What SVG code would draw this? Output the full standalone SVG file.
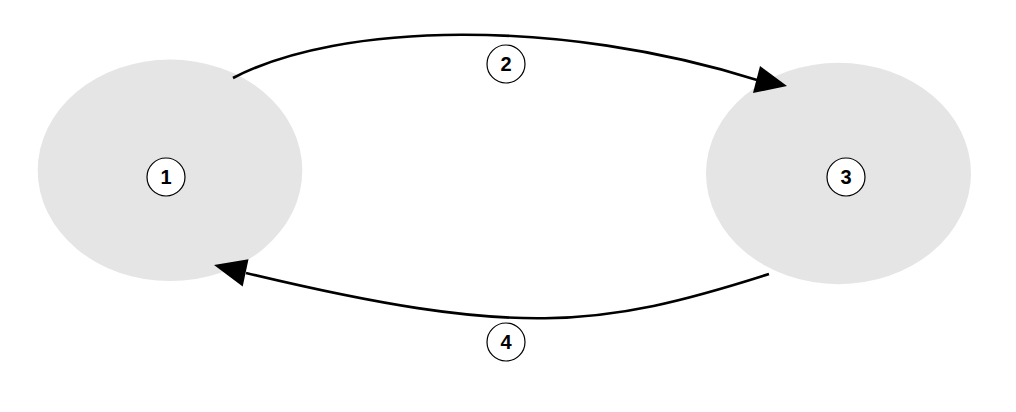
<svg xmlns="http://www.w3.org/2000/svg" width="1016" height="412" viewBox="0 0 1016 412">
  <style>
    .node { fill: #e5e5e5; stroke: none; }
    .badge { fill: #ffffff; stroke: #000000; stroke-width: 1.2; }
    .num { font-family: "Liberation Sans", Arial, sans-serif; font-size: 20px; font-weight: bold; fill: #000000; text-anchor: middle; }
    .edge { fill: none; stroke: #000000; stroke-width: 2.6; }
    .head { fill: #000000; stroke: none; }
  </style>
  <rect width="1016" height="412" fill="#ffffff"/>
  <g id="node1">
    <ellipse class="node" cx="170" cy="170.3" rx="132.3" ry="110.8"/>
    <circle class="badge" cx="166" cy="177" r="19"/>
    <text class="num" x="166" y="184">1</text>
  </g>
  <g id="node3">
    <ellipse class="node" cx="838.5" cy="173.5" rx="132.5" ry="110.7"/>
    <circle class="badge" cx="846" cy="177" r="19"/>
    <text class="num" x="846" y="184">3</text>
  </g>
  <g id="connectors">
    <g id="edge2">
      <path class="edge" d="M233,78 C340,22 560,18 757,80"/>
      <polygon class="head" points="787,86 760,66 753,93"/>
      <circle class="badge" cx="506" cy="64" r="19"/>
      <text class="num" x="506" y="71">2</text>
    </g>
    <g id="edge4">
      <path class="edge" d="M769,274 C599,328.4 516,337.8 246,273"/>
      <polygon class="head" points="214,265 248.5,259.3 242.7,286.5"/>
      <circle class="badge" cx="506" cy="342" r="19"/>
      <text class="num" x="506" y="349">4</text>
    </g>
  </g>
</svg>
